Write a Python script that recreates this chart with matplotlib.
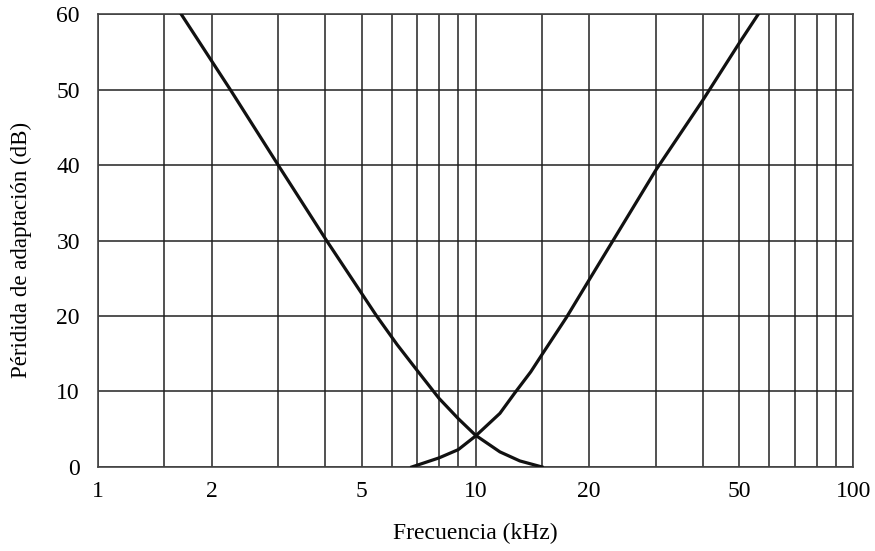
import matplotlib.pyplot as plt
import numpy as np

# curva de bajas frecuencias (kHz, dB)
f_low = [1.66, 2.24, 3.0, 4.03, 5.47, 6.2, 7.0, 8.0, 9.0, 10.0, 11.6, 13.1, 15.0]
a_low = [60, 50, 40, 30, 20, 16.2, 12.8, 9.1, 6.4, 4.2, 2.0, 0.8, 0]

# curva de altas frecuencias (kHz, dB)
f_high = [6.78, 8.0, 9.0, 10.0, 11.6, 12.7, 14.0, 15.0, 17.4, 20.0, 30.0, 40.0, 50.0, 56.1]
a_high = [0, 1.2, 2.3, 4.1, 7.1, 9.8, 12.6, 14.9, 19.8, 24.8, 39.3, 48.6, 56.2, 60]

x_ticks = [1, 2, 5, 10, 20, 50, 100]
x_grid = [1, 1.5, 2, 3, 4, 5, 6, 7, 8, 9, 10, 15, 20, 30, 40, 50, 60, 70, 80, 90, 100]
y_ticks = [0, 10, 20, 30, 40, 50, 60]

plt.rcParams['font.family'] = ['Liberation Serif', 'DejaVu Serif']

fig = plt.figure(figsize=(8.75, 5.51), dpi=100)
ax = fig.add_axes([0.112, 0.1525, 0.863, 0.822])

for xv in x_grid:
    ax.axvline(xv, color='#222222', lw=1.1, zorder=1)
for yv in y_ticks:
    ax.axhline(yv, color='#222222', lw=1.1, zorder=1)

ax.plot(f_low, a_low, color='#111111', lw=2.3, zorder=3, solid_joinstyle='round')
ax.plot(f_high, a_high, color='#111111', lw=2.3, zorder=3, solid_joinstyle='round')

ax.set_xscale('log')
ax.set_xlim(1, 100)
ax.set_ylim(0, 60)
ax.set_xticks(x_ticks)
ax.set_xticklabels([str(v) for v in x_ticks])
ax.minorticks_off()
ax.set_yticks(y_ticks)
ax.tick_params(axis='x', length=0, pad=10, labelsize=17)
ax.tick_params(axis='y', length=0, pad=13, labelsize=17)

for s in ax.spines.values():
    s.set_color('#444444')
    s.set_linewidth(1.2)

ax.set_xlabel('Frecuencia (kHz)', fontsize=17, labelpad=15)
ax.set_ylabel('Péridida de adaptación (dB)', fontsize=16.5)
ax.yaxis.set_label_coords(-0.088, 0.48)

fig.savefig('out.png', dpi=100)
